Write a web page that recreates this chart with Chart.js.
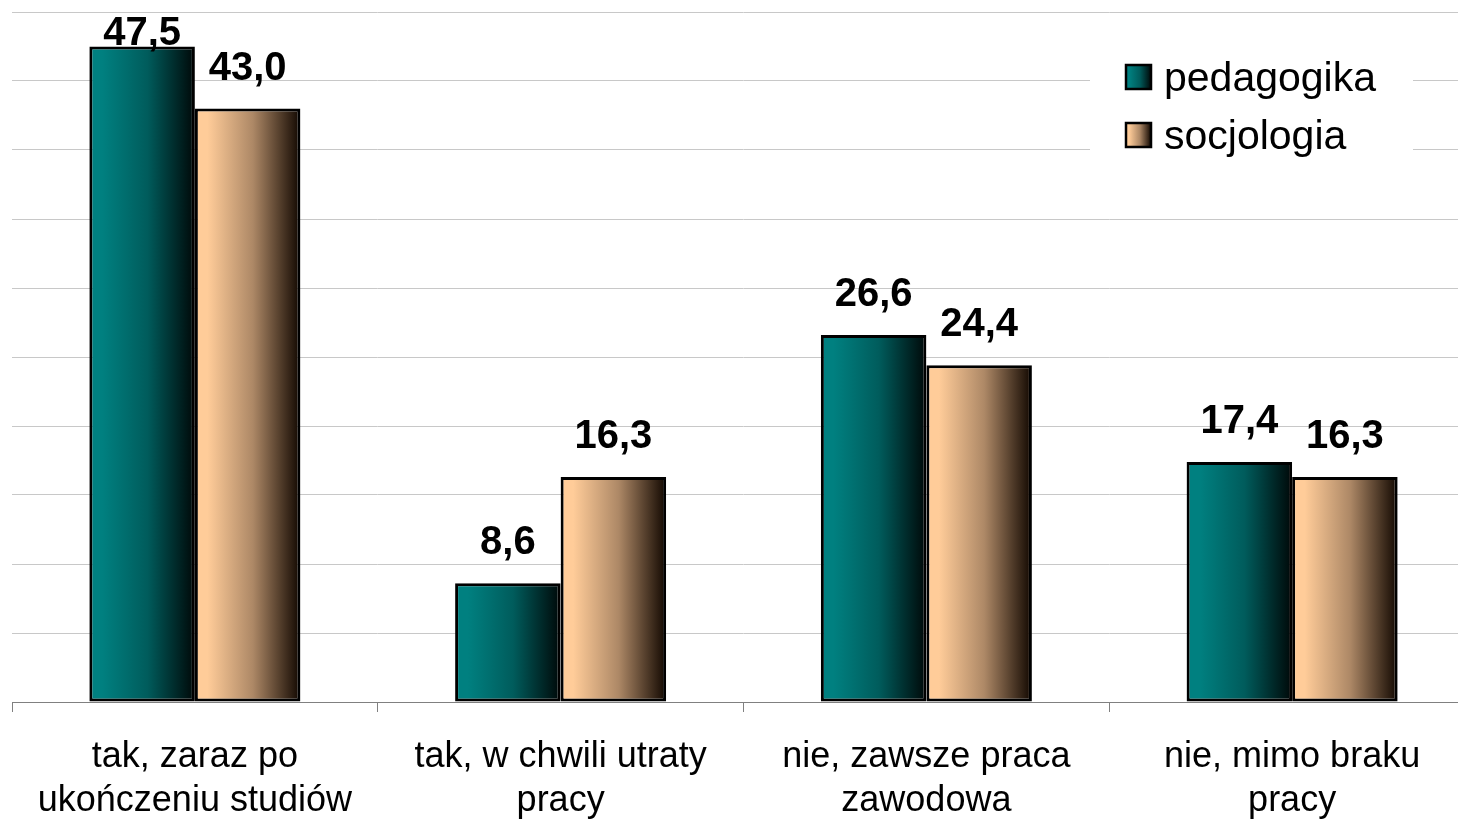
<!DOCTYPE html>
<html>
<head>
<meta charset="utf-8">
<script src="https://cdn.jsdelivr.net/npm/chart.js@4/dist/chart.umd.min.js"></script>
<style>
  html, body { margin: 0; padding: 0; background: #fff; overflow: hidden; }
  #wrap { width: 1490px; height: 822px; }
</style>
</head>
<body>
<div id="wrap"><canvas id="chart"></canvas></div>
<script>
const categories = [
    ['tak, zaraz po', 'ukończeniu studiów'],
    ['tak, w chwili utraty', 'pracy'],
    ['nie, zawsze praca', 'zawodowa'],
    ['nie, mimo braku', 'pracy']
];
const seriesNames = ['pedagogika', 'socjologia'];
const pedagogika = [47.5, 8.6, 26.6, 17.4];
const socjologia = [43.0, 16.3, 24.4, 16.3];
const yTicks = [0, 5, 10, 15, 20, 25, 30, 35, 40, 45, 50];

const catPct = 0.577;
const gradStops = [
    ['#008080', '#005c5c', '#000808'],
    ['#ffcc99', '#ad8866', '#110700']
];
const fontFamily = "Arial, 'Liberation Sans', sans-serif";

function makeGradient(ctx, x0, x1, stops) {
    const g = ctx.createLinearGradient(x0, 0, x1, 0);
    g.addColorStop(0, stops[0]);
    g.addColorStop(0.12, stops[0]);
    g.addColorStop(0.55, stops[1]);
    g.addColorStop(1, stops[2]);
    return g;
}

function barFill(context) {
    const chart = context.chart;
    const xs = chart.scales.x;
    const plain = gradStops[context.datasetIndex][0];
    if (!xs || context.dataIndex === undefined) return plain;
    const cw = (xs.right - xs.left) / categories.length;
    const bw = cw * catPct / 2;
    const center = xs.getPixelForValue(context.dataIndex);
    const left = center - bw + context.datasetIndex * bw;
    if (!isFinite(left) || !isFinite(bw) || bw <= 0) return plain;
    return makeGradient(chart.ctx, left, left + bw, gradStops[context.datasetIndex]);
}

const valueLabels = {
    id: 'valueLabels',
    afterDatasetsDraw(chart) {
        const ctx = chart.ctx;
        ctx.save();
        ctx.font = 'bold 40px ' + fontFamily;
        ctx.fillStyle = '#000';
        ctx.textAlign = 'center';
        ctx.textBaseline = 'alphabetic';
        chart.data.datasets.forEach((ds, di) => {
            chart.getDatasetMeta(di).data.forEach((bar, i) => {
                const txt = ds.data[i].toFixed(1).replace('.', ',');
                const y = Math.max(bar.y - 29, 45);
                ctx.fillText(txt, bar.x, y);
            });
        });
        ctx.restore();
    }
};

const boxLegend = {
    id: 'boxLegend',
    afterDraw(chart) {
        const ctx = chart.ctx;
        ctx.save();
        ctx.fillStyle = '#fff';
        ctx.fillRect(1090, 50, 323, 118);
        ctx.font = '41px ' + fontFamily;
        ctx.textAlign = 'left';
        ctx.textBaseline = 'alphabetic';
        seriesNames.forEach((name, i) => {
            const top = 65 + i * 58;
            ctx.fillStyle = makeGradient(ctx, 1126, 1151, gradStops[i]);
            ctx.fillRect(1126, top, 25, 24);
            ctx.lineWidth = 2.5;
            ctx.strokeStyle = '#000';
            ctx.strokeRect(1126, top, 25, 24);
            ctx.fillStyle = '#000';
            ctx.fillText(name, 1164, top + 26);
        });
        ctx.restore();
    }
};

function barDataset(label, data) {
    return {
        label: label,
        data: data,
        categoryPercentage: catPct,
        barPercentage: 1,
        backgroundColor: barFill,
        borderColor: '#000',
        borderWidth: 3,
        borderSkipped: false
    };
}

new Chart(document.getElementById('chart'), {
    type: 'bar',
    data: {
        labels: categories,
        datasets: [
            barDataset(seriesNames[0], pedagogika),
            barDataset(seriesNames[1], socjologia)
        ]
    },
    options: {
        responsive: true,
        maintainAspectRatio: false,
        animation: false,
        layout: { padding: { left: 12, right: 15, top: 12, bottom: 0 } },
        plugins: {
            legend: { display: false },
            tooltip: { enabled: false }
        },
        scales: {
            x: {
                grid: { drawOnChartArea: false, drawTicks: true, tickLength: 10, color: '#808080' },
                border: { display: true, color: '#808080', width: 1 },
                afterFit: s => { s.height = 120; },
                ticks: {
                    color: '#000',
                    padding: 23,
                    maxRotation: 0,
                    font: { family: fontFamily, size: 36, lineHeight: 1.22 }
                }
            },
            y: {
                min: yTicks[0],
                max: yTicks[yTicks.length - 1],
                afterBuildTicks: s => { s.ticks = yTicks.map(v => ({ value: v })); },
                afterFit: s => { s.width = 0; },
                ticks: { display: false },
                border: { display: false },
                grid: { color: '#c8c8c8', lineWidth: 1, drawTicks: false }
            }
        }
    },
    plugins: [valueLabels, boxLegend]
});
</script>
</body>
</html>
